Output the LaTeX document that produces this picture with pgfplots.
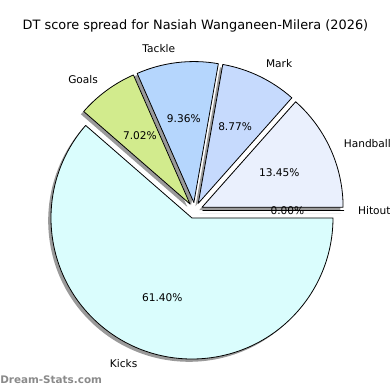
\documentclass[border=0pt]{standalone}
\usepackage{pgfplots}
\pgfplotsset{compat=1.18}
\usepackage{fontspec}
\setmainfont{DejaVu Sans}
\definecolor{cHit}{HTML}{D0D8E8}
\definecolor{cHand}{HTML}{EAF0FD}
\definecolor{cMark}{HTML}{C6DAFD}
\definecolor{cTack}{HTML}{B5D6FD}
\definecolor{cGoal}{HTML}{D2EB8D}
\definecolor{cKick}{HTML}{DAFDFD}
\definecolor{shad}{HTML}{9A9A9A}
\definecolor{wm}{HTML}{8A8A8A}
% label / value (percent) / colour
\def\slices{Hitout/0.00/cHit, Handball/13.45/cHand, Mark/8.77/cMark, Tackle/9.36/cTack, Goals/7.02/cGoal, Kicks/61.40/cKick}
\def\CX{194.8}\def\CY{210.5}\def\RAD{141}\def\EXP{8}
\begin{document}
\begin{tikzpicture}
\begin{axis}[at={(0,0)},anchor=south west,scale only axis,width=292.5pt,height=292.5pt,
  xmin=0,xmax=390,ymin=0,ymax=390,y dir=reverse,hide axis,clip=false]
\path (axis cs:0,390) coordinate (SW) (axis cs:390,0) coordinate (NE);
% shadows
\gdef\s{0}
\foreach \lab/\val/\col in \slices {
  \pgfmathsetmacro\e{\s+3.6*\val}
  \pgfmathsetmacro\m{(\s+\e)/2}
  \pgfmathsetmacro\ax{\CX+\EXP*cos(\m)-2.8}
  \pgfmathsetmacro\ay{\CY-\EXP*sin(\m)+2.8}
  \edef\temp{\noexpand\fill[shad] (axis cs:\ax,\ay) -- ++(\s:105.75pt) arc[start angle=\s,end angle=\e,radius=105.75pt] -- cycle;}
  \temp
  \xdef\s{\e}
}
% slices
\gdef\s{0}
\foreach \lab/\val/\col in \slices {
  \pgfmathsetmacro\e{\s+3.6*\val}
  \pgfmathsetmacro\m{(\s+\e)/2}
  \pgfmathsetmacro\ax{\CX+\EXP*cos(\m)}
  \pgfmathsetmacro\ay{\CY-\EXP*sin(\m)}
  \edef\temp{\noexpand\filldraw[fill=\col,draw=black,line width=0.6pt,line join=round] (axis cs:\ax,\ay) -- ++(\s:105.75pt) arc[start angle=\s,end angle=\e,radius=105.75pt] -- cycle;}
  \temp
  \xdef\s{\e}
}
% labels
\gdef\s{0}
\foreach \lab/\val/\col in \slices {
  \pgfmathsetmacro\e{\s+3.6*\val}
  \pgfmathsetmacro\m{(\s+\e)/2}
  \pgfmathsetmacro\lx{\CX+(1.1*\RAD+\EXP)*cos(\m)}
  \pgfmathsetmacro\ly{\CY-(1.1*\RAD+\EXP)*sin(\m)}
  \pgfmathsetmacro\px{\CX+(0.6*\RAD+\EXP)*cos(\m)}
  \pgfmathsetmacro\py{\CY-(0.6*\RAD+\EXP)*sin(\m)}
  \pgfmathsetmacro\sg{cos(\m)>0 ? 1 : 0}
  \ifdim\sg pt>0.5pt \def\anc{west}\else\def\anc{east}\fi
  \edef\temp{\noexpand\node[anchor=\anc,inner sep=0pt,font=\noexpand\fontsize{7.95}{9}\noexpand\selectfont] at (axis cs:\lx,\ly) {\lab};
    \noexpand\node[anchor=center,inner sep=0pt,font=\noexpand\fontsize{7.95}{9}\noexpand\selectfont] at (axis cs:\px,\py) {\val\noexpand\%};}
  \temp
  \xdef\s{\e}
}
\node[anchor=center,inner sep=0pt,font=\fontsize{9.66}{11}\selectfont] at (axis cs:195.5,26) {DT score spread for Nasiah Wanganeen-Milera (2026)};
\node[anchor=west,inner sep=0pt,text=wm,font=\fontsize{7.8}{9}\selectfont\bfseries] at (axis cs:0,380) {Dream-Stats.com};
\end{axis}
\pgfresetboundingbox
\useasboundingbox (SW) rectangle (NE);
\end{tikzpicture}
\end{document}
